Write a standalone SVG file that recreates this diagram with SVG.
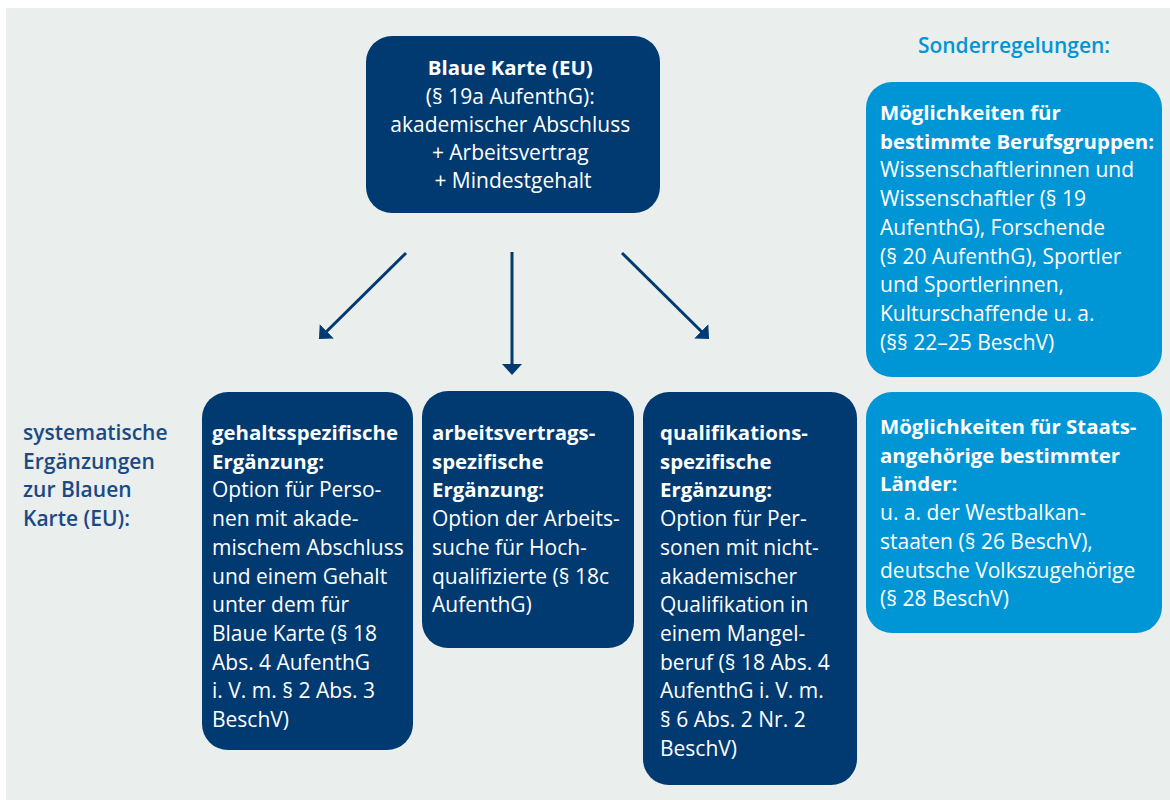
<svg xmlns="http://www.w3.org/2000/svg" width="1170" height="800" viewBox="0 0 1170 800">
<defs>
<style>
text{font-family:"Open Sans","Noto Sans","Liberation Sans",sans-serif;font-size:21px}
.w{fill:#ffffff}
.b{font-weight:700;font-size:20.4px}
.dark{fill:#003A70}
.light{fill:#0096D6}
.conn{stroke:#003A70;stroke-width:3;fill:none}
.lbl{fill:#1A4A85;font-weight:600}
.sr{fill:#0096D6;font-weight:600}
</style>
<marker id="ah" viewBox="0 0 11 20" refX="6" refY="10" markerWidth="11" markerHeight="20" markerUnits="userSpaceOnUse" orient="auto">
<path d="M0,0 L11,10 L0,20 z" fill="#003A70"/>
</marker>
</defs>
<rect x="6" y="8" width="1164" height="792" fill="#EAEEED"/>

<g id="connectors">
<line class="conn" x1="406" y1="253" x2="322.5" y2="335.5" marker-end="url(#ah)"/>
<line class="conn" x1="512" y1="252" x2="512" y2="370" marker-end="url(#ah)"/>
<line class="conn" x1="622" y1="253" x2="705.5" y2="335.5" marker-end="url(#ah)"/>
</g>

<g id="top">
<rect class="dark" x="366" y="36" width="294" height="177" rx="26"/>
<text class="w" text-anchor="middle">
<tspan class="b" x="513" y="75">Blaue Karte (EU)</tspan>
<tspan x="513" y="104">(§ 19a AufenthG):</tspan>
<tspan x="513" y="132">akademischer Abschluss</tspan>
<tspan x="513" y="160">+ Arbeitsvertrag</tspan>
<tspan x="513" y="188">+ Mindestgehalt</tspan>
</text>
</g>

<g id="label-left">
<text class="lbl">
<tspan x="23" y="440">systematische</tspan>
<tspan x="23" y="468.7">Ergänzungen</tspan>
<tspan x="23" y="497.4">zur Blauen</tspan>
<tspan x="23" y="526.1">Karte (EU):</tspan>
</text>
</g>

<g id="gehalt">
<rect class="dark" x="202" y="392" width="211" height="358" rx="26"/>
<text class="w">
<tspan class="b" x="212" y="440">gehaltsspezifische</tspan>
<tspan class="b" x="212" y="468.7">Ergänzung:</tspan>
<tspan x="212" y="497.4">Option für Perso-</tspan>
<tspan x="212" y="526.1">nen mit akade-</tspan>
<tspan x="212" y="554.8">mischem Abschluss</tspan>
<tspan x="212" y="583.5">und einem Gehalt</tspan>
<tspan x="212" y="612.2">unter dem für</tspan>
<tspan x="212" y="640.9">Blaue Karte (§ 18</tspan>
<tspan x="212" y="669.6">Abs. 4 AufenthG</tspan>
<tspan x="212" y="698.3">i. V. m. § 2 Abs. 3</tspan>
<tspan x="212" y="727">BeschV)</tspan>
</text>
</g>

<g id="arbeitsvertrag">
<rect class="dark" x="422" y="391" width="212" height="257" rx="26"/>
<text class="w">
<tspan class="b" x="432" y="440">arbeitsvertrags-</tspan>
<tspan class="b" x="432" y="468.7">spezifische</tspan>
<tspan class="b" x="432" y="497.4">Ergänzung:</tspan>
<tspan x="432" y="526.1">Option der Arbeits-</tspan>
<tspan x="432" y="554.8">suche für Hoch-</tspan>
<tspan x="432" y="583.5">qualifizierte (§ 18c</tspan>
<tspan x="432" y="612.2">AufenthG)</tspan>
</text>
</g>

<g id="qualifikation">
<rect class="dark" x="643" y="392" width="214" height="393" rx="26"/>
<text class="w">
<tspan class="b" x="660" y="440">qualifikations-</tspan>
<tspan class="b" x="660" y="468.7">spezifische</tspan>
<tspan class="b" x="660" y="497.4">Ergänzung:</tspan>
<tspan x="660" y="526.1">Option für Per-</tspan>
<tspan x="660" y="554.8">sonen mit nicht-</tspan>
<tspan x="660" y="583.5">akademischer</tspan>
<tspan x="660" y="612.2">Qualifikation in</tspan>
<tspan x="660" y="640.9">einem Mangel-</tspan>
<tspan x="660" y="669.6">beruf (§ 18 Abs. 4</tspan>
<tspan x="660" y="698.3">AufenthG i. V. m.</tspan>
<tspan x="660" y="727">§ 6 Abs. 2 Nr. 2</tspan>
<tspan x="660" y="755.7">BeschV)</tspan>
</text>
</g>

<g id="sonder-label">
<text class="sr" x="1014" y="53" text-anchor="middle">Sonderregelungen:</text>
</g>

<g id="berufsgruppen">
<rect class="light" x="866" y="82" width="296" height="295" rx="26"/>
<text class="w">
<tspan class="b" x="880" y="120">Möglichkeiten für</tspan>
<tspan class="b" x="880" y="148.7">bestimmte Berufsgruppen:</tspan>
<tspan x="880" y="177.4">Wissenschaftlerinnen und</tspan>
<tspan x="880" y="206.1">Wissenschaftler (§ 19</tspan>
<tspan x="880" y="234.8">AufenthG), Forschende</tspan>
<tspan x="880" y="263.5">(§ 20 AufenthG), Sportler</tspan>
<tspan x="880" y="292.2">und Sportlerinnen,</tspan>
<tspan x="880" y="320.9">Kulturschaffende u. a.</tspan>
<tspan x="880" y="349.6">(§§ 22–25 BeschV)</tspan>
</text>
</g>

<g id="staatsangehoerige">
<rect class="light" x="866" y="392" width="296" height="241" rx="26"/>
<text class="w">
<tspan class="b" x="880" y="434">Möglichkeiten für Staats-</tspan>
<tspan class="b" x="880" y="462.7">angehörige bestimmter</tspan>
<tspan class="b" x="880" y="491.4">Länder:</tspan>
<tspan x="880" y="520.1">u. a. der Westbalkan-</tspan>
<tspan x="880" y="548.8">staaten (§ 26 BeschV),</tspan>
<tspan x="880" y="577.5">deutsche Volkszugehörige</tspan>
<tspan x="880" y="606.2">(§ 28 BeschV)</tspan>
</text>
</g>
</svg>
